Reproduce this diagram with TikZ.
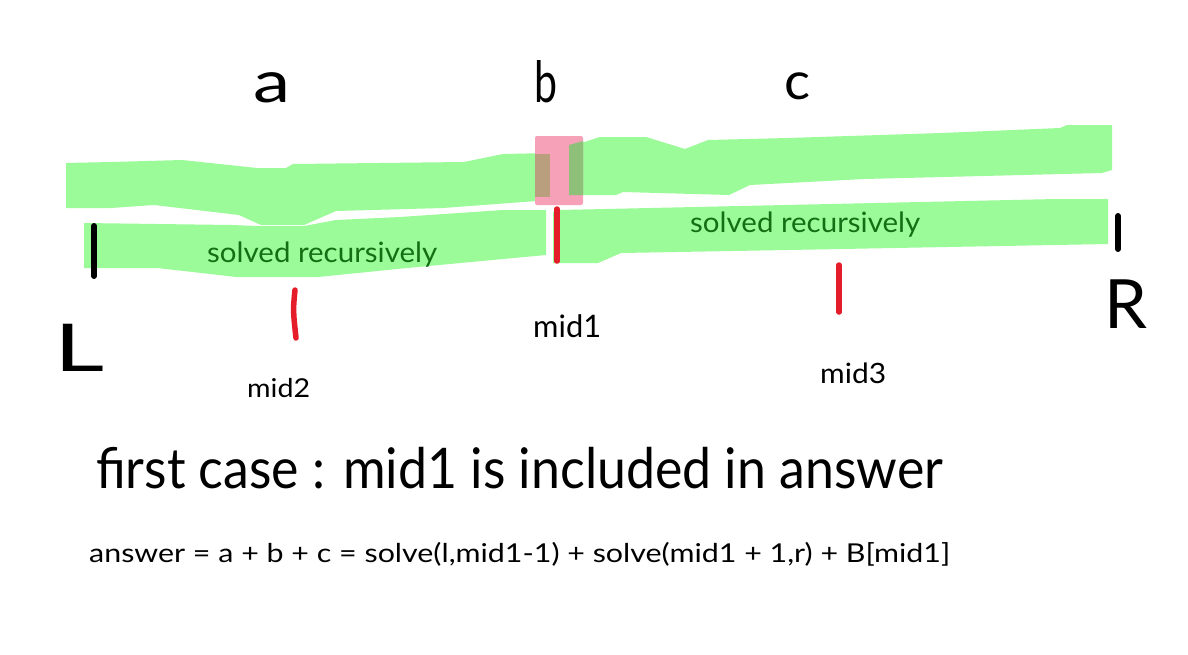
\documentclass[tikz,border=0pt]{standalone}
\usepackage{fontspec}
\setmainfont{Lato}
\usepackage{graphicx}
\definecolor{band}{HTML}{9AFB98}
\definecolor{pinkbox}{HTML}{F7A1B8}
\definecolor{ovl}{HTML}{BA9F7E}
\definecolor{ovr}{HTML}{8FC07A}
\definecolor{txtgreen}{HTML}{146E14}
\definecolor{tickred}{HTML}{E51C2A}
\newcommand\fitw[2]{\resizebox{#1}{\height}{#2}}
\begin{document}
\begin{tikzpicture}[x=1pt,y=-1pt,
  bandfill/.style={fill=band,draw=none},
  blacktick/.style={line width=6pt,line cap=round,black},
  redtick/.style={line width=5.5pt,line cap=round,tickred},
  lbl/.style={inner sep=0pt,anchor=base west},
  greentxt/.style={lbl,text=txtgreen},
]
\useasboundingbox (0,0) rectangle (1188,654);
\fill[white] (0,0) rectangle (1188,654);

% green bands
\fill[bandfill] (66,163) -- (111,162) -- (182,160) -- (257,168) -- (286,168) -- (293,164)
  -- (464,162) -- (503,154) -- (550,153) -- (550,200) -- (443,208) -- (336,211)
  -- (304,225) -- (261,225) -- (239,215) -- (154,205) -- (111,208) -- (66,208) -- cycle;
\fill[bandfill] (569,147) -- (600,137) -- (646,137) -- (685,149) -- (708,140) -- (788,138)
  -- (941,133) -- (1060,128) -- (1067,125) -- (1112,125) -- (1112,170) -- (1102,173)
  -- (864,179) -- (750,185) -- (729,195) -- (623,192) -- (616,195) -- (569,195) -- cycle;
\fill[bandfill] (84,223) -- (232,225) -- (257,226) -- (304,226) -- (336,220) -- (400,217)
  -- (503,210) -- (546,210) -- (546,255) -- (407,268) -- (318,277) -- (236,277)
  -- (193,272) -- (157,268) -- (84,268) -- cycle;
\fill[bandfill] (553,212) -- (560,210) -- (1056,199) -- (1108,199) -- (1108,244)
  -- (788,250) -- (621,253) -- (598,263) -- (553,263) -- cycle;

% pink highlight with overlaps
\fill[pinkbox, rounded corners=2pt] (535,136) rectangle (583,205);
\fill[ovl] (535,154) rectangle (550,197);
\fill[ovr] (569,145) -- (583,141) -- (583,195) -- (569,195) -- cycle;

% ticks
\coordinate (Ltop) at (94,226); \coordinate (Lbot) at (94,276);
\coordinate (Rtop) at (1118,216); \coordinate (Rbot) at (1118,249);
\coordinate (m1top) at (557,209); \coordinate (m1bot) at (557,261);
\coordinate (m2top) at (295,290); \coordinate (m2bot) at (296,338);
\coordinate (m3top) at (839,265); \coordinate (m3bot) at (839,312);
\draw[blacktick] (Ltop) -- (Lbot);
\draw[blacktick] (Rtop) -- (Rbot);
\draw[redtick] (m1top) -- (m1bot);
\draw[redtick] (m2top) .. controls (293,310) .. (m2bot);
\draw[redtick] (m3top) -- (m3bot);

% labels
\node[greentxt] (s1) at (207,262) {\fitw{230pt}{\fontsize{28}{30}\selectfont solved recursively}};
\node[greentxt] (s2) at (690,232) {\fitw{230pt}{\fontsize{28}{30}\selectfont solved recursively}};

\node[lbl] (a) at (253,102) {\fitw{37pt}{\fontsize{58}{60}\selectfont a}};
\node[lbl] (b) at (534,102) {\fitw{23pt}{\fontsize{57}{60}\selectfont b}};
\node[lbl] (c) at (784,99) {\fitw{26pt}{\fontsize{52}{56}\selectfont c}};
\node[lbl] (L) at (54,371) {\fitw{50pt}{\fontsize{66}{70}\selectfont L}};
\node[lbl] (R) at (1104,328) {\fitw{43pt}{\fontsize{68}{70}\selectfont R}};

\node[lbl] (mid1) at (533,337) {\fitw{68pt}{\fontsize{31}{33}\selectfont mid1}};
\node[lbl] (mid2) at (247,397) {\fitw{63pt}{\fontsize{26}{28}\selectfont mid2}};
\node[lbl] (mid3) at (820,383) {\fitw{66pt}{\fontsize{28}{30}\selectfont mid3}};

\node[lbl] (title) at (96,488) {\fitw{847pt}{\fontsize{56}{60}\selectfont first case : mid1 is included in answer}};
\node[lbl] (formula) at (89,562) {\fitw{861pt}{\fontsize{26}{28}\selectfont answer = a + b + c = solve(l,mid1-1) + solve(mid1 + 1,r) + B[mid1]}};
\end{tikzpicture}
\end{document}
